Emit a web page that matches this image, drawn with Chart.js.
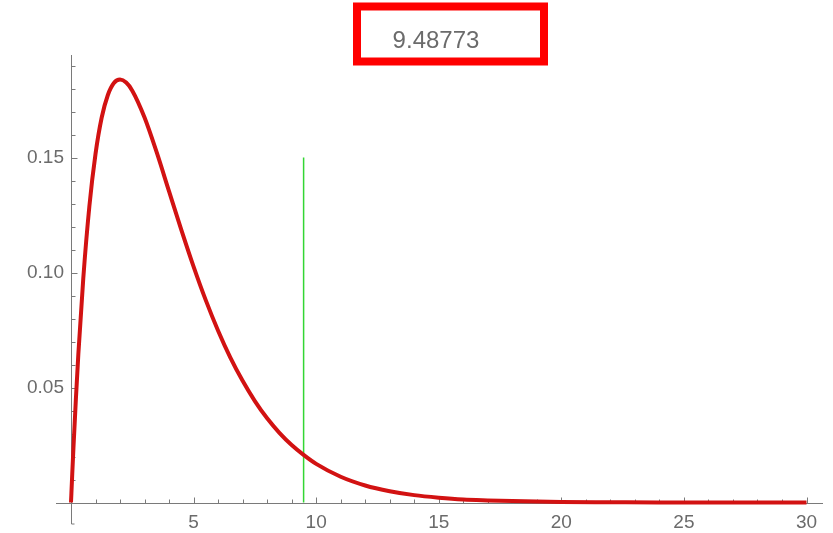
<!DOCTYPE html>
<html>
<head>
<meta charset="utf-8">
<script src="https://cdn.jsdelivr.net/npm/chart.js@4/dist/chart.umd.min.js"></script>
<style>
  html, body { margin: 0; padding: 0; background: #fff; }
  #wrap { width: 833px; height: 533px; }
</style>
</head>
<body>
<div id="wrap"><canvas id="chart" width="833" height="533"></canvas></div>
<script>
        // values
        const xValues = [0, 0.05, 0.1, 0.2, 0.3, 0.5, 0.75, 1, 1.25, 1.5, 1.75, 2, 2.25, 2.5, 3, 3.5, 4, 4.5, 5,
            5.5, 6, 6.5, 7, 7.5, 8, 8.5, 9, 9.5, 10, 11, 12, 13, 14, 15, 16, 17, 18, 20, 22, 24, 26, 28, 30];
        const densityValues = [0, 0.0122, 0.0238, 0.0452, 0.0646, 0.0974, 0.1289, 0.1516, 0.1673, 0.1771, 0.1824,
            0.1839, 0.1826, 0.1791, 0.1674, 0.1521, 0.1353, 0.1186, 0.1026, 0.0879, 0.0747, 0.0630, 0.0529,
            0.0441, 0.0366, 0.0303, 0.0250, 0.0206, 0.0168, 0.0112, 0.0074, 0.0049, 0.0032, 0.0021, 0.0013,
            0.0009, 0.0006, 0.0002, 0.0001, 0, 0, 0, 0];
        const criticalValue = 9.48773;
        const markerTop = 0.15;
        const xTickLabels = [5, 10, 15, 20, 25, 30];
        const yTickLabels = [0.05, 0.10, 0.15];
        const titleText = '9.48773';

        const axisColor = '#7a7a7a';
        const labelColor = '#6b6b6b';

        const axesPlugin = {
            id: 'axes',
            beforeDatasetsDraw(chart) {
                const ctx = chart.ctx;
                const xs = chart.scales.x;
                const ys = chart.scales.y;
                const x0 = Math.round(xs.getPixelForValue(0)) + 0.5;
                const y0 = Math.round(ys.getPixelForValue(0)) + 0.5;
                ctx.save();
                ctx.strokeStyle = axisColor;
                ctx.lineWidth = 1;
                ctx.beginPath();
                // x axis
                ctx.moveTo(56, y0);
                ctx.lineTo(823, y0);
                // y axis
                ctx.moveTo(x0, chart.chartArea.top);
                ctx.lineTo(x0, 524);
                ctx.lineTo(x0 + 3, 524);
                // x ticks
                for (let v = 1; v <= 30; v++) {
                    const px = Math.round(xs.getPixelForValue(v)) + 0.5;
                    const len = v % 5 === 0 ? 6 : 4;
                    ctx.moveTo(px, y0);
                    ctx.lineTo(px, y0 - len);
                }
                // y ticks
                for (let i = 1; i <= 19; i++) {
                    const py = Math.round(ys.getPixelForValue(i / 100)) + 0.5;
                    const len = i % 5 === 0 ? 6 : 4;
                    ctx.moveTo(x0, py);
                    ctx.lineTo(x0 + len, py);
                }
                ctx.stroke();
                ctx.restore();
            },
            afterDraw(chart) {
                const ctx = chart.ctx;
                ctx.save();
                ctx.strokeStyle = '#ff0000';
                ctx.lineWidth = 8;
                ctx.strokeRect(357, 6.5, 187, 55);
                ctx.fillStyle = labelColor;
                ctx.font = '24px "Liberation Sans", Arial, sans-serif';
                ctx.textAlign = 'center';
                ctx.textBaseline = 'middle';
                ctx.fillText(titleText, 436, 41);
                ctx.restore();
            }
        };

        const ctx = document.getElementById('chart').getContext('2d');
        const myChart = new Chart(ctx, {
            type: 'line',
            data: {
                datasets: [{
                    data: xValues.map((x, i) => ({ x: x, y: densityValues[i] })),
                    borderColor: '#d21212',
                    borderWidth: 4,
                    pointRadius: 0,
                    cubicInterpolationMode: 'monotone',
                    clip: 6
                }, {
                    data: [{ x: criticalValue, y: 0 }, { x: criticalValue, y: markerTop }],
                    borderColor: '#33d633',
                    borderWidth: 1.5,
                    pointRadius: 0,
                    clip: 6
                }]
            },
            options: {
                responsive: false,
                animation: false,
                events: [],
                layout: { padding: { left: 0, right: 26.5, top: 55, bottom: 0 } },
                plugins: { legend: { display: false }, tooltip: { enabled: false } },
                scales: {
                    x: {
                        type: 'linear',
                        min: 0,
                        max: 30,
                        grid: { display: false, drawTicks: false },
                        border: { display: false },
                        afterFit: s => { s.height = 30.5; },
                        ticks: {
                            stepSize: 5,
                            padding: 9,
                            maxRotation: 0,
                            color: labelColor,
                            font: { family: '"Liberation Sans", Arial, sans-serif', size: 19 },
                            callback: v => xTickLabels.includes(v) ? String(v) : ''
                        }
                    },
                    y: {
                        min: 0,
                        max: 0.1946,
                        grid: { display: false, drawTicks: false },
                        border: { display: false },
                        afterFit: s => { s.width = 71; },
                        ticks: {
                            stepSize: 0.05,
                            includeBounds: false,
                            padding: 7,
                            color: labelColor,
                            font: { family: '"Liberation Sans", Arial, sans-serif', size: 19 },
                            callback: v => {
                                const hit = yTickLabels.find(t => Math.abs(t - v) < 1e-9);
                                return hit ? hit.toFixed(2) : '';
                            }
                        }
                    }
                }
            },
            plugins: [axesPlugin]
        });
</script>
</body>
</html>
